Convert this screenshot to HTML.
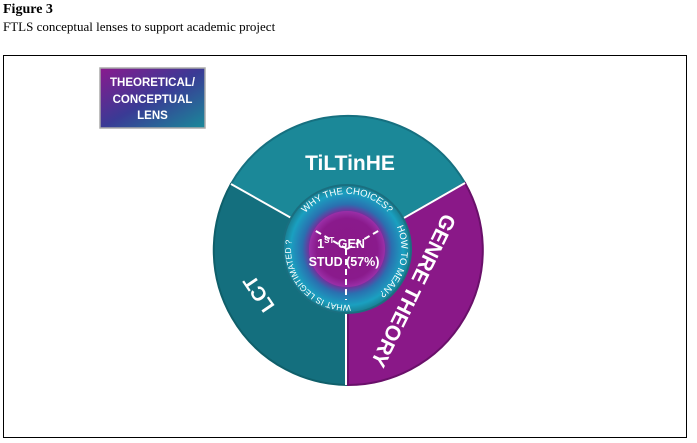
<!DOCTYPE html>
<html><head><meta charset="utf-8"><style>
html,body{margin:0;padding:0;background:#fff;width:697px;height:443px;overflow:hidden}
.t{position:absolute;font-family:"Liberation Serif",serif;font-size:13px;color:#000;left:3px}
</style></head><body>
<div class="t" style="top:2px;font-weight:bold;font-size:14px">Figure 3</div>
<div class="t" style="top:19px">FTLS conceptual lenses to support academic project</div>
<svg width="697" height="443" style="position:absolute;left:0;top:0" font-family="Liberation Sans, sans-serif">
<defs>
<linearGradient id="lg" x1="0" y1="0" x2="1" y2="1">
<stop offset="0" stop-color="#8a1a8e"/><stop offset="0.5" stop-color="#3a3a95"/><stop offset="1" stop-color="#1a8a9a"/></linearGradient>
<radialGradient id="ring" cx="0.5" cy="0.5" r="0.5">
<stop offset="0.58" stop-color="#7a2a9a"/><stop offset="0.7" stop-color="#2a70b0"/><stop offset="0.88" stop-color="#1aa0c0"/><stop offset="1" stop-color="#1a7d90"/></radialGradient>
<radialGradient id="core" cx="0.5" cy="0.5" r="0.5">
<stop offset="0" stop-color="#8a1888"/><stop offset="0.8" stop-color="#8a1a8c"/><stop offset="1" stop-color="#9a30a8"/></radialGradient>
<path id="arcTop" d="M 292 249 A 55 55 0 0 1 402 249"/>
<path id="arcRight" d="M 374 202 A 54 54 0 0 1 347 303"/>
<path id="arcLeft" d="M 361.5 303 A 56 56 0 0 1 294.4 229.8"/>
</defs>
<rect x="3.5" y="55.5" width="683" height="382" fill="none" stroke="#000" stroke-width="1"/>
<rect x="100" y="68" width="105" height="60" fill="url(#lg)" stroke="#aaa" stroke-width="1.5"/>
<text x="152.5" y="86" fill="#fff" font-size="11.5" font-weight="bold" text-anchor="middle">THEORETICAL/</text>
<text x="152.5" y="103" fill="#fff" font-size="11.5" font-weight="bold" text-anchor="middle">CONCEPTUAL</text>
<text x="152.5" y="119" fill="#fff" font-size="11.5" font-weight="bold" text-anchor="middle">LENS</text>
<path d="M348 250 L231 184 A135 135 0 0 1 465 183 Z" fill="#1b8898" stroke="#167080" stroke-width="2"/>
<path d="M348 250 L348 385 A135 135 0 0 1 231 184 Z" fill="#146f7e" stroke="#0f5f6a" stroke-width="2"/>
<path d="M348 250 L465 183 A135 135 0 0 1 348 385 Z" fill="#8a1888" stroke="#6a106a" stroke-width="2"/>
<line x1="348" y1="250" x2="231" y2="184" stroke="#fff" stroke-width="2"/>
<line x1="348" y1="250" x2="465" y2="183" stroke="#fff" stroke-width="2"/>
<line x1="346" y1="250" x2="346" y2="385" stroke="#fff" stroke-width="2"/>
<circle cx="347" cy="249" r="64" fill="url(#ring)" stroke="#1a6f80" stroke-width="2"/>
<circle cx="347" cy="249" r="38" fill="url(#core)"/>
<g stroke="#fff" stroke-width="2" stroke-dasharray="6,4">
<line x1="347" y1="249" x2="314" y2="230"/><line x1="347" y1="249" x2="380" y2="230"/><line x1="346" y1="249" x2="346" y2="300"/></g>
<text font-size="9.5" fill="#fff"><textPath href="#arcTop" startOffset="50%" text-anchor="middle">WHY THE CHOICES?</textPath></text>
<text font-size="9.5" fill="#fff"><textPath href="#arcRight" startOffset="50%" text-anchor="middle">HOW TO MEAN?</textPath></text>
<text font-size="8.5" fill="#fff"><textPath href="#arcLeft" startOffset="50%" text-anchor="middle">WHAT IS LEGITIMATED ?</textPath></text>
<text x="341" y="248" fill="#fff" font-size="12.5" font-weight="bold" text-anchor="middle">1<tspan font-size="8" dy="-5">ST</tspan><tspan dy="5"> GEN</tspan></text>
<text x="344" y="266" fill="#fff" font-size="12.5" font-weight="bold" text-anchor="middle">STUD (57%)</text>
<text x="350" y="170" fill="#fff" font-size="21" font-weight="bold" text-anchor="middle">TiLTinHE</text>
<text transform="translate(260,293) rotate(-124)" fill="#fff" font-size="20" font-weight="bold" text-anchor="middle" dominant-baseline="middle">LCT</text>
<text transform="translate(412,290) rotate(116)" fill="#fff" font-size="21" font-weight="bold" text-anchor="middle" dominant-baseline="middle">GENRE THEORY</text>
</svg>
</body></html>
